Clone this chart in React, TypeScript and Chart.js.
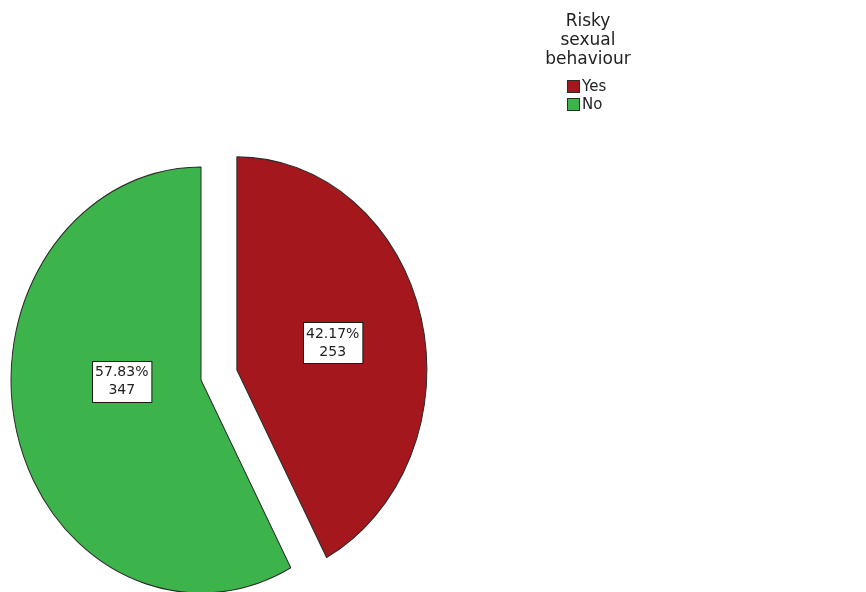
import React, { useEffect, useRef } from "react";
import { Chart, registerables } from "chart.js";

Chart.register(...registerables);

// ---- data ----
const categories = ["Yes", "No"];
const counts = [253, 347];
const legendTitleLines = ["Risky", "sexual", "behaviour"];

// ---- styles ----
const SLICE_COLORS = ["#a3171d", "#3cb44b"];
const BORDER_COLOR = "#2b2b2b";
const TEXT_COLOR = "#222222";
const Y_STRETCH = 213 / 190;
const EXPLODE = [37, 0];
const LABEL_FRAC = [0.52, 0.43];
const LABEL_NUDGE_Y = [0, -21];
const FONT = "'DejaVu Sans', 'Lucida Grande', sans-serif";

export default function App() {
  const ref = useRef<HTMLCanvasElement>(null);

  useEffect(() => {
    document.body.style.margin = "0";
    const canvas = ref.current;
    if (!canvas) return;
    const total = counts.reduce((a, b) => a + b, 0);

    const piePlugin = {
      id: "ellipsePie",
      beforeDatasetsDraw(chart: any) {
        const ctx = chart.ctx;
        const a = chart.chartArea;
        const cx = (a.left + a.right) / 2;
        const cy = (a.top + a.bottom) / 2;
        const meta = chart.getDatasetMeta(0);
        ctx.save();
        ctx.translate(cx, cy);
        ctx.scale(1, Y_STRETCH);
        ctx.translate(-cx, -cy);
        meta.data.forEach((el: any, i: number) => {
          const half = (el.startAngle + el.endAngle) / 2;
          const s = EXPLODE[i] || 0;
          ctx.save();
          ctx.translate(Math.cos(half) * s, Math.sin(half) * s);
          el.draw(ctx, chart.chartArea);
          ctx.restore();
        });
        ctx.restore();
        return false;
      },
      afterDraw(chart: any) {
        const ctx = chart.ctx;
        const a = chart.chartArea;
        const cy = (a.top + a.bottom) / 2;
        const meta = chart.getDatasetMeta(0);
        ctx.save();
        ctx.font = `14px ${FONT}`;
        meta.data.forEach((el: any, i: number) => {
          const { x, y, startAngle, endAngle, outerRadius } = el;
          const half = (startAngle + endAngle) / 2;
          const d = (EXPLODE[i] || 0) + outerRadius * LABEL_FRAC[i];
          const px = x + Math.cos(half) * d;
          const py0 = y + Math.sin(half) * d;
          const py = cy + (py0 - cy) * Y_STRETCH + LABEL_NUDGE_Y[i];
          const pct = ((counts[i] / total) * 100).toFixed(2) + "%";
          const lines = [pct, String(counts[i])];
          const w = Math.max(...lines.map((l) => ctx.measureText(l).width)) + 6;
          const h = 41;
          const bx = Math.round(px - w / 2) + 0.5;
          const by = Math.round(py - h / 2) + 0.5;
          ctx.fillStyle = "#ffffff";
          ctx.fillRect(bx, by, w, h);
          ctx.strokeStyle = "#1a1a1a";
          ctx.lineWidth = 1;
          ctx.strokeRect(bx, by, w, h);
          ctx.fillStyle = TEXT_COLOR;
          ctx.textAlign = "center";
          ctx.textBaseline = "middle";
          ctx.fillText(lines[0], px, py - 9);
          ctx.fillText(lines[1], px, py + 9);
        });

        // legend
        ctx.fillStyle = TEXT_COLOR;
        ctx.textAlign = "center";
        ctx.textBaseline = "alphabetic";
        ctx.font = `17px ${FONT}`;
        const titleX = 588;
        legendTitleLines.forEach((t, i) => {
          ctx.fillText(t, titleX, 26 + i * 19);
        });
        ctx.font = `15px ${FONT}`;
        ctx.textAlign = "left";
        ctx.textBaseline = "middle";
        categories.forEach((c, i) => {
          const by = 80 + i * 18;
          ctx.fillStyle = SLICE_COLORS[i];
          ctx.fillRect(567, by, 13, 13);
          ctx.strokeStyle = BORDER_COLOR;
          ctx.lineWidth = 1;
          ctx.strokeRect(567.5, by + 0.5, 12, 12);
          ctx.fillStyle = TEXT_COLOR;
          ctx.fillText(c, 582, by + 7);
        });
        ctx.restore();
      },
    };

    const chart = new Chart(canvas, {
      type: "pie",
      data: {
        labels: categories,
        datasets: [
          {
            data: counts,
            backgroundColor: SLICE_COLORS,
            borderColor: BORDER_COLOR,
            borderWidth: 1,
            radius: 190,
            clip: false,
          } as any,
        ],
      },
      options: {
        responsive: false,
        animation: false,
        events: [],
        layout: { padding: { left: 0, right: 464, top: 168, bottom: 0 } },
        plugins: {
          legend: { display: false },
          tooltip: { enabled: false },
          title: { display: false },
        },
      },
      plugins: [piePlugin],
    });

    return () => chart.destroy();
  }, []);

  return (
    <div style={{ position: "absolute", left: 0, top: 0, width: 866, height: 592, background: "#fff" }}>
      <canvas ref={ref} width={866} height={592} style={{ display: "block" }} />
    </div>
  );
}
